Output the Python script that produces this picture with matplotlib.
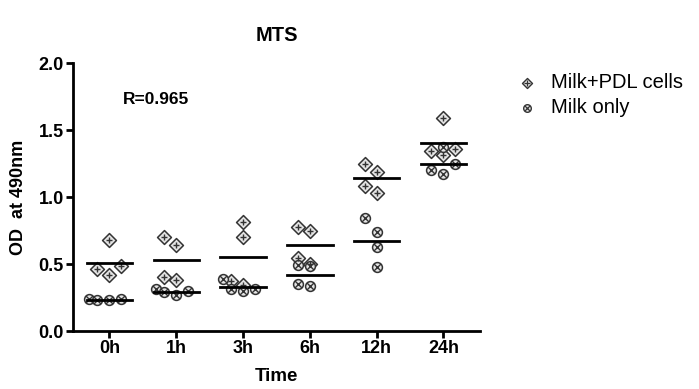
import matplotlib.pyplot as plt
import numpy as np

plt.rcParams['font.family'] = ['Liberation Sans', 'DejaVu Sans']

# Data
times = ['0h', '1h', '3h', '6h', '12h', '24h']
milk_pdl = [
    [0.68, 0.46, 0.42, 0.485],
    [0.64, 0.70, 0.40, 0.38],
    [0.81, 0.70, 0.37, 0.34],
    [0.75, 0.78, 0.545, 0.50],
    [1.25, 1.19, 1.085, 1.03],
    [1.59, 1.345, 1.36, 1.31],
]
milk_only = [
    [0.24, 0.23, 0.24, 0.23],
    [0.30, 0.27, 0.31, 0.29],
    [0.31, 0.30, 0.31, 0.39],
    [0.485, 0.49, 0.335, 0.35],
    [0.84, 0.74, 0.63, 0.48],
    [1.37, 1.25, 1.17, 1.20],
]
r_text = 'R=0.965'


def swarm(vals, width=0.18, gap=0.1):
    # spread points sideways when they sit close together
    vals = np.asarray(vals)
    order = np.argsort(vals)
    offs = np.zeros(len(vals))
    placed = []
    for i in order:
        near = [j for j in placed if abs(vals[j] - vals[i]) < gap]
        k = len(near)
        offs[i] = 0 if k == 0 else (-width if k % 2 else width) * ((k + 1) // 2)
        placed.append(i)
    return np.clip(offs, -0.3, 0.3)


fig = plt.figure(figsize=(6.99, 3.89), dpi=100)
ax = fig.add_axes([0.104, 0.149, 0.583, 0.689])

x = np.arange(len(times))
edge = '#333333'
fill = '#e4e4e4'
for i in x:
    for grp, mk, inner in [(milk_pdl[i], 'D', '+'), (milk_only[i], 'o', 'x')]:
        offs = swarm(grp)
        ax.scatter(i + offs, grp, marker=mk, s=50, facecolor=fill,
                   edgecolor=edge, linewidth=1.1, zorder=3)
        ax.scatter(i + offs, grp, marker=inner, s=24, color=edge,
                   linewidth=1.0, zorder=4)
        m = np.mean(grp)
        ax.plot([i - 0.34, i + 0.34], [m, m], color='black', lw=2, zorder=5)

# legend handles
h1a = ax.scatter([], [], marker='D', s=26, facecolor=fill, edgecolor=edge, linewidth=1.0)
h1b = ax.scatter([], [], marker='+', s=14, color=edge, linewidth=0.9)
h2a = ax.scatter([], [], marker='o', s=30, facecolor=fill, edgecolor=edge, linewidth=1.0)
h2b = ax.scatter([], [], marker='x', s=12, color=edge, linewidth=0.9)
ax.legend([(h1a, h1b), (h2a, h2b)], ['Milk+PDL cells', 'Milk only'], loc='upper left',
          bbox_to_anchor=(1.03, 1.03), frameon=False, fontsize=14.5,
          handletextpad=0.4, labelspacing=0.3, handlelength=1.6)

ax.text(0.2, 1.73, r_text, fontsize=12.5, fontweight='bold', va='center')

ax.set_xlim(-0.55, 5.55)
ax.set_ylim(0, 2.0)
ax.set_yticks([0, 0.5, 1.0, 1.5, 2.0])
ax.set_yticklabels(['0.0', '0.5', '1.0', '1.5', '2.0'])
ax.set_xticks(x)
ax.set_xticklabels(times)
for lab in ax.get_xticklabels() + ax.get_yticklabels():
    lab.set_fontweight('bold')
    lab.set_fontsize(13)
ax.tick_params(width=2, length=5)
ax.tick_params(axis='x', pad=1.5)
ax.tick_params(axis='y', pad=1.5)
for s in ['top', 'right']:
    ax.spines[s].set_visible(False)
for s in ['left', 'bottom']:
    ax.spines[s].set_linewidth(2)

ax.set_title('MTS', fontsize=14.5, fontweight='bold', pad=16)
ax.set_xlabel('Time', fontsize=13.5, fontweight='bold', labelpad=8)
ax.set_ylabel('OD  at 490nm', fontsize=13, fontweight='bold', labelpad=8)

plt.savefig('out.png', dpi=100)
